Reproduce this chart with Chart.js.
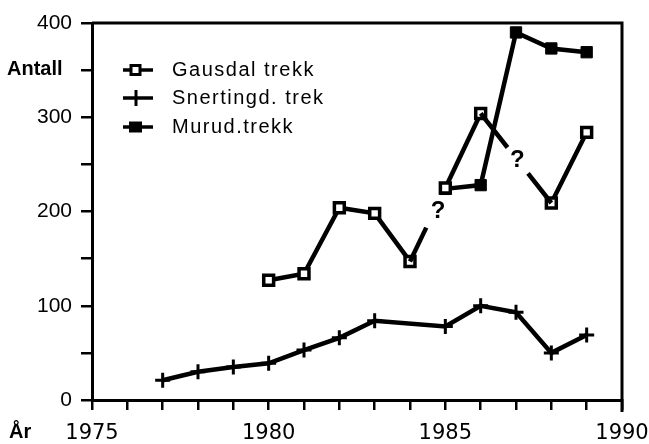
<!DOCTYPE html>
<html>
<head>
<meta charset="utf-8">
<script src="https://cdn.jsdelivr.net/npm/chart.js@4"></script>
<style>
  html, body { margin: 0; padding: 0; background: #fff; }
  #wrap { width: 649px; height: 444px; }
</style>
</head>
<body>
<div id="wrap"><canvas id="chart" width="649" height="444"></canvas></div>
<script>
// Data
const gausdalYears = [1980, 1981, 1982, 1983, 1984, 1985, 1986, 1988, 1989];
const gausdalValues = [127, 134, 204, 198, 147, 225, 304, 209, 284];
const snertingYears = [1977, 1978, 1979, 1980, 1981, 1982, 1983, 1985, 1986, 1987, 1988, 1989];
const snertingValues = [21, 30, 35, 39, 53, 66, 84, 78, 100, 93, 50, 69];
const murudYears = [1985, 1986, 1987, 1988, 1989];
const murudValues = [224, 228, 390, 373, 369];
const seriesNames = ['Gausdal trekk', 'Snertingd. trek', 'Murud.trekk'];
// Uncertain segments in Gausdal (start year of segment), drawn broken with "?"
const uncertainFrom = [1984, 1986];

const FONT = '"Liberation Sans", Arial, Helvetica, sans-serif';
const LINE_W = 4.5;

const toPoints = (xs, ys) => xs.map((x, i) => ({ x: x, y: ys[i] }));

// Draws frame, labels, legend and the "?" marks
const decorations = {
    id: 'decorations',
    afterDatasetsDraw(chart) {
        const ctx = chart.ctx;
        const area = chart.chartArea;
        ctx.save();

        // top and right frame
        ctx.strokeStyle = '#000';
        ctx.lineWidth = 3;
        ctx.beginPath();
        ctx.moveTo(area.left, area.top);
        ctx.lineTo(area.right, area.top);
        ctx.lineTo(area.right, area.bottom + 12);
        ctx.stroke();

        // broken Gausdal segments with question marks
        const meta = chart.getDatasetMeta(0);
        ctx.lineWidth = LINE_W;
        ctx.lineCap = 'butt';
        uncertainFrom.forEach(year => {
            const i = gausdalYears.indexOf(year);
            const p0 = meta.data[i];
            const p1 = meta.data[i + 1];
            const at = t => [p0.x + (p1.x - p0.x) * t, p0.y + (p1.y - p0.y) * t];
            let a, b, q;
            if (year === 1984) {
                a = at(0.46);
                q = at(0.68);
                q[0] += 4;
            } else {
                a = at(0.38);
                b = at(0.67);
                q = at(0.52);
            }
            ctx.beginPath();
            ctx.moveTo(p0.x, p0.y);
            ctx.lineTo(a[0], a[1]);
            if (b) {
                ctx.moveTo(b[0], b[1]);
                ctx.lineTo(p1.x, p1.y);
            }
            ctx.stroke();
            ctx.fillStyle = '#000';
            ctx.font = 'bold 24px ' + FONT;
            ctx.textAlign = 'center';
            ctx.textBaseline = 'middle';
            ctx.fillText('?', q[0], q[1]);
        });

        // axis titles
        ctx.fillStyle = '#000';
        ctx.font = 'bold 20px ' + FONT;
        ctx.textAlign = 'left';
        ctx.textBaseline = 'middle';
        ctx.fillText('Antall', 7, 69);
        ctx.fillText('År', 9, 432);

        // legend
        const rows = [70, 98, 127];
        ctx.font = '20px ' + FONT;
        ctx.letterSpacing = '1.5px';
        rows.forEach((y, k) => {
            ctx.strokeStyle = '#000';
            ctx.lineWidth = 3.5;
            ctx.beginPath();
            ctx.moveTo(123, y);
            ctx.lineTo(153, y);
            ctx.stroke();
            if (k === 0) {
                ctx.lineWidth = 3;
                ctx.fillStyle = '#fff';
                ctx.fillRect(131, y - 4.5, 9, 9);
                ctx.strokeRect(131, y - 4.5, 9, 9);
            } else if (k === 1) {
                ctx.lineWidth = 3;
                ctx.beginPath();
                ctx.moveTo(136, y - 8);
                ctx.lineTo(136, y + 8);
                ctx.stroke();
            } else {
                ctx.fillStyle = '#000';
                ctx.fillRect(129, y - 5.5, 13, 11);
            }
            ctx.fillStyle = '#000';
            ctx.fillText(seriesNames[k], 172, y);
        });
        ctx.restore();
    }
};

const ctx = document.getElementById('chart').getContext('2d');
new Chart(ctx, {
    type: 'line',
    data: {
        datasets: [
            {
                label: seriesNames[0],
                data: toPoints(gausdalYears, gausdalValues),
                borderColor: '#000',
                borderWidth: LINE_W,
                pointStyle: 'rect',
                pointRadius: 7,
                pointBorderWidth: 3.5,
                pointBackgroundColor: '#fff',
                pointBorderColor: '#000',
                segment: {
                    borderColor: c => uncertainFrom.includes(c.p0.parsed.x) ? 'rgba(0,0,0,0)' : undefined
                }
            },
            {
                label: seriesNames[1],
                data: toPoints(snertingYears, snertingValues),
                borderColor: '#000',
                borderWidth: LINE_W,
                pointStyle: 'cross',
                pointRadius: 7.5,
                pointBorderWidth: 3,
                pointBorderColor: '#000'
            },
            {
                label: seriesNames[2],
                data: toPoints(murudYears, murudValues),
                borderColor: '#000',
                borderWidth: LINE_W,
                pointStyle: 'rect',
                pointRadius: 8,
                pointBorderWidth: 1,
                pointBackgroundColor: '#000',
                pointBorderColor: '#000'
            }
        ]
    },
    options: {
        responsive: false,
        animation: false,
        layout: { padding: { top: 23, right: 27, left: 0, bottom: 0 } },
        plugins: {
            legend: { display: false },
            tooltip: { enabled: false }
        },
        scales: {
            x: {
                type: 'linear',
                min: 1975,
                max: 1990,
                afterFit: s => { s.height = 44; s.paddingLeft = 0; s.paddingRight = 0; },
                border: { color: '#000', width: 3 },
                grid: { drawOnChartArea: false, color: '#000', tickLength: 10, lineWidth: 2.5 },
                ticks: {
                    stepSize: 1,
                    autoSkip: false,
                    maxRotation: 0,
                    color: '#000',
                    padding: 11,
                    font: { family: '"DejaVu Sans", ' + FONT, size: 21 },
                    callback: v => (v % 5 === 0 ? String(v) : '')
                }
            },
            y: {
                min: 0,
                max: 400,
                afterFit: s => { s.width = 92; },
                border: { color: '#000', width: 3 },
                grid: { drawOnChartArea: false, color: '#000', tickLength: 11, lineWidth: 2.5 },
                ticks: {
                    stepSize: 50,
                    color: '#000',
                    padding: 9,
                    font: { family: FONT, size: 21 },
                    callback: v => (v % 100 === 0 ? String(v) : '')
                }
            }
        }
    },
    plugins: [decorations]
});
</script>
</body>
</html>
